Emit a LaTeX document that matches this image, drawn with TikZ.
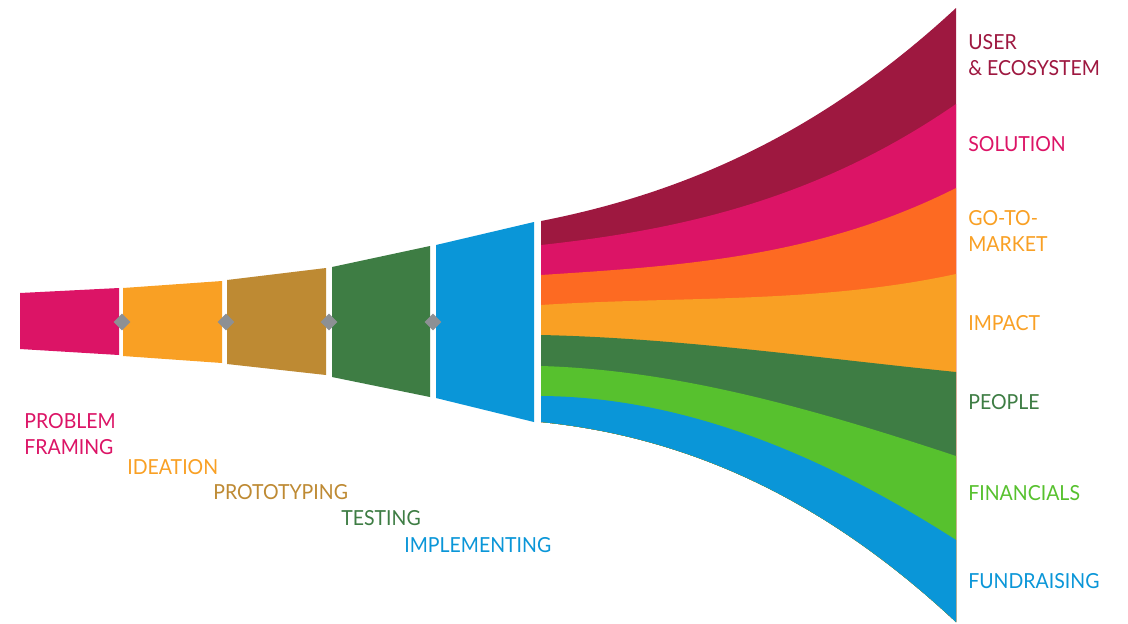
\documentclass[tikz,border=0pt]{standalone}
\usepackage{fontspec}
\setmainfont{Lato}[FakeStretch=0.94]
\usetikzlibrary{shapes.geometric}
\definecolor{pinkc}{RGB}{220,20,102}
\definecolor{orangec}{RGB}{249,160,36}
\definecolor{goldc}{RGB}{190,138,51}
\definecolor{dgreenc}{RGB}{62,125,68}
\definecolor{bluec}{RGB}{10,150,216}
\definecolor{maroonc}{RGB}{158,24,64}
\definecolor{redorangec}{RGB}{253,106,34}
\definecolor{lgreenc}{RGB}{87,193,46}
\definecolor{grayc}{RGB}{141,144,148}
\tikzset{
  lbl/.style={anchor=west, inner sep=0pt, align=left, font=\fontsize{11.8}{14.8}\selectfont},
  gem/.style={diamond, fill=grayc, inner sep=0pt, minimum width=0.34cm, minimum height=0.34cm},
}
\begin{document}
\begin{tikzpicture}[x=0.02cm, y=-0.02cm]
\useasboundingbox[fill=white] (0,0) rectangle (1128,623);
% left segments
\fill[pinkc]   (20,293) -- (119,288) -- (119,355) -- (20,349) -- cycle;
\fill[orangec] (123,288) -- (222,281) -- (222,363) -- (123,356) -- cycle;
\fill[goldc]   (227,280) -- (326,268) -- (326,375) -- (227,364) -- cycle;
\fill[dgreenc] (332,267) -- (430,246) -- (430,397) -- (332,377) -- cycle;
\fill[bluec]   (436,245) -- (534,222) -- (534,422) -- (436,398) -- cycle;
% diamonds
\node[gem] (d1) at (122,322) {};
\node[gem] (d2) at (226,322) {};
\node[gem] (d3) at (329,322) {};
\node[gem] (d4) at (433,322) {};
% fan: each band painted from its top boundary down to the bottom boundary
\def\bottomback{-- (956,622) .. controls (817,492) and (679,436) .. (541,422) -- cycle}
\fill[maroonc]    (541,221) .. controls (679,194) and (817,137) .. (956,8)   \bottomback;
\fill[pinkc]      (541,245) .. controls (679,230) and (817,200) .. (956,104) \bottomback;
\fill[redorangec] (541,275) .. controls (679,266) and (817,258) .. (956,188) \bottomback;
\fill[orangec]    (541,305) .. controls (679,296) and (817,304) .. (956,274) \bottomback;
\fill[dgreenc]    (541,335) .. controls (679,338) and (817,358) .. (956,372) \bottomback;
\fill[lgreenc]    (541,366) .. controls (679,370) and (817,410) .. (956,456) \bottomback;
\fill[bluec]      (541,396) .. controls (679,397) and (817,451) .. (956,540) \bottomback;
% left labels
\node[lbl, text=pinkc]   (l1) at (24,434) {PROBLEM\\FRAMING};
\node[lbl, text=orangec] (l2) at (127,467) {IDEATION};
\node[lbl, text=goldc]   (l3) at (213,492) {PROTOTYPING};
\node[lbl, text=dgreenc] (l4) at (341,518) {TESTING};
\node[lbl, text=bluec]   (l5) at (404,545) {IMPLEMENTING};
% right labels
\node[lbl, text=maroonc] (r1) at (968,55) {USER\\\& ECOSYSTEM};
\node[lbl, text=pinkc]   (r2) at (968,144) {SOLUTION};
\node[lbl, text=orangec] (r3) at (968,231) {GO-TO-\\MARKET};
\node[lbl, text=orangec] (r4) at (968,323) {IMPACT};
\node[lbl, text=dgreenc] (r5) at (968,402) {PEOPLE};
\node[lbl, text=lgreenc] (r6) at (968,493) {FINANCIALS};
\node[lbl, text=bluec]   (r7) at (968,581) {FUNDRAISING};
\end{tikzpicture}
\end{document}
